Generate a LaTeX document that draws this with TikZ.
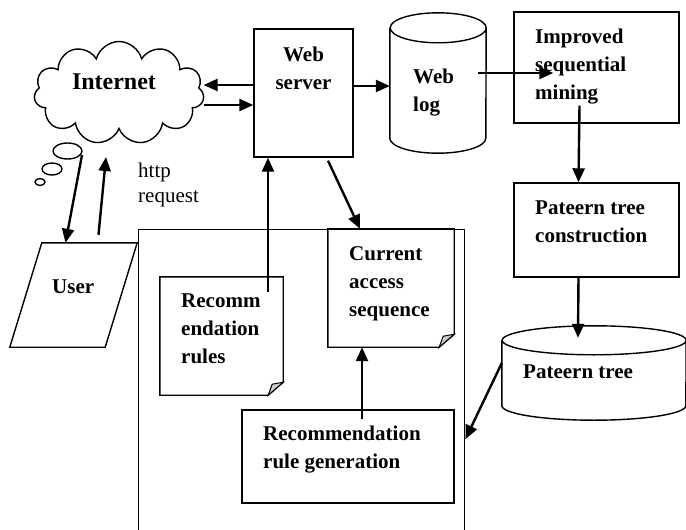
\documentclass[tikz,border=0pt]{standalone}
\usepackage{fontspec}
\setmainfont{Liberation Serif}
\usetikzlibrary{shapes.symbols,arrows.meta}

\begin{document}
\begin{tikzpicture}[x=1pt,y=1pt]
                      \tikzstyle{every node}+=[inner sep=0pt]
                      \tikzstyle{box}=[draw=black,line width=1.4pt,rectangle]
                      \tikzstyle{arr}=[line width=2.4pt,-{Triangle[length=14pt,width=12pt]}]
                      \tikzstyle{lbl}=[font=\fontsize{21}{28}\selectfont\bfseries,align=left,anchor=base west]
                      \useasboundingbox (0,0) rectangle (686,-530);
                      \node [cloud, draw=black, line width=1.4pt, cloud puffs=11, aspect=1.65, minimum width=170, minimum height=103] (internet) at (119,-93) {};
                      \draw [black, line width=1.4pt] (67.5,-151) ellipse (14.5 and 8);
                      \draw [black, line width=1.4pt] (52,-169) ellipse (10 and 6);
                      \draw [black, line width=1.4pt] (40,-182) ellipse (5 and 3.5);
                      \node [box, minimum width=99, minimum height=128] (server) at (303.5,-93) {};
                      \node [minimum width=96, minimum height=140] (weblog) at (438,-83) {};
                      \draw [black, line width=1.4pt] ([yshift=-15]weblog.north west) -- ([yshift=15]weblog.south west) arc (180:360:48 and 15) -- ([yshift=-15]weblog.north east) arc (0:360:48 and 15);
                      \node [box, minimum width=165, minimum height=111] (improved) at (596.5,-67.5) {};
                      \node [box, minimum width=165, minimum height=94] (ptc) at (596.5,-230) {};
                      \node [minimum width=184, minimum height=94] (ptree) at (594,-373) {};
                      \draw [black, line width=1.4pt] ([yshift=-14.5]ptree.north west) -- ([yshift=14.5]ptree.south west) arc (180:360:92 and 14.5) -- ([yshift=-14.5]ptree.north east) arc (0:360:92 and 14.5);
                      \node [minimum width=127, minimum height=104] (user) at (73.5,-295) {};
                      \draw [black, line width=1.4pt] ([xshift=32]user.north west) -- (user.north east) -- ([xshift=-32]user.south east) -- (user.south west) -- cycle;
                      \node [box, minimum width=326, minimum height=311, anchor=north west] (frame) at (138,-229) {};
                      \node [minimum width=123, minimum height=118] (rules) at (221.5,-336) {};
                      \draw [black, line width=1.4pt] (rules.north west) -- (rules.north east) -- ([yshift=13]rules.south east) -- ([xshift=-15]rules.south east) -- (rules.south west) -- cycle;
                      \fill [gray!40, draw=black, line width=1pt] ([yshift=13]rules.south east) -- ([xshift=-15]rules.south east) -- ([xshift=-11,yshift=11]rules.south east) -- cycle;
                      \node [minimum width=126, minimum height=118] (current) at (391,-288) {};
                      \draw [black, line width=1.4pt] (current.north west) -- (current.north east) -- ([yshift=13]current.south east) -- ([xshift=-15]current.south east) -- (current.south west) -- cycle;
                      \fill [gray!40, draw=black, line width=1pt] ([yshift=13]current.south east) -- ([xshift=-15]current.south east) -- ([xshift=-11,yshift=11]current.south east) -- cycle;
                      \node [box, minimum width=212, minimum height=93] (rulegen) at (348,-456.5) {};
                      \draw (114,-89) node [lbl, anchor=base, font=\fontsize{24}{28}\selectfont\bfseries] (internettext) {Internet};
                      \draw (303.5,-89) node [lbl, anchor=base, align=center] (servertext) {Web\\server};
                      \draw (413,-111) node [lbl] (weblogtext) {Web\\log};
                      \draw (535,-99) node [lbl] (improvedtext) {Improved\\sequential\\mining};
                      \draw (535,-242) node [lbl] (ptctext) {Pateern tree\\construction};
                      \draw (523,-378) node [lbl] (ptreetext) {Pateern tree};
                      \draw (52,-293) node [lbl] (usertext) {User};
                      \draw (181,-363) node [lbl] (rulestext) {Recomm\\endation\\rules};
                      \draw (349,-316) node [lbl] (currenttext) {Current\\access\\sequence};
                      \draw (263,-468) node [lbl] (rulegentext) {Recommendation\\rule generation};
                      \draw (138,-202) node [lbl, font=\fontsize{21}{25}\selectfont] (httptext) {http\\request};
                      \draw [arr] ([yshift=8]server.west) -- ([yshift=8]server.west -| internet.east);
                      \draw [arr] ([yshift=-12]server.west -| internet.east) -- ([yshift=-12]server.west);
                      \draw [arr] ([yshift=7]server.east) -- ([yshift=7]server.east -| weblog.west);
                      \draw [arr] ([xshift=40,yshift=10]weblog.center) -- ([xshift=40,yshift=10]weblog.center -| improved.west);
                      \draw [arr] ([xshift=-17,yshift=18]improved.south) -- ([xshift=-18]ptc.north);
                      \draw [arr] ([xshift=-18]ptc.south) -- ([xshift=-16,yshift=-12]ptree.north);
                      \draw [arr] ([yshift=10]ptree.west) -- ([yshift=-54]frame.east);
                      \draw [arr] ([xshift=24.5,yshift=-3]server.south) -- ([xshift=-31]current.north);
                      \draw [arr] ([xshift=46.5,yshift=-15]rules.north) -- ([xshift=-35.5]server.south);
                      \draw [arr] ([xshift=14,yshift=-10]rulegen.north) -- ([xshift=-29]current.south);
                      \draw [arr] ([xshift=-37,yshift=-62]internet.center) -- ([xshift=-8]user.north);
                      \draw [arr] ([xshift=25,yshift=8]user.north) -- ([xshift=-13,yshift=-64]internet.center);
                  \end{tikzpicture}
\end{document}
